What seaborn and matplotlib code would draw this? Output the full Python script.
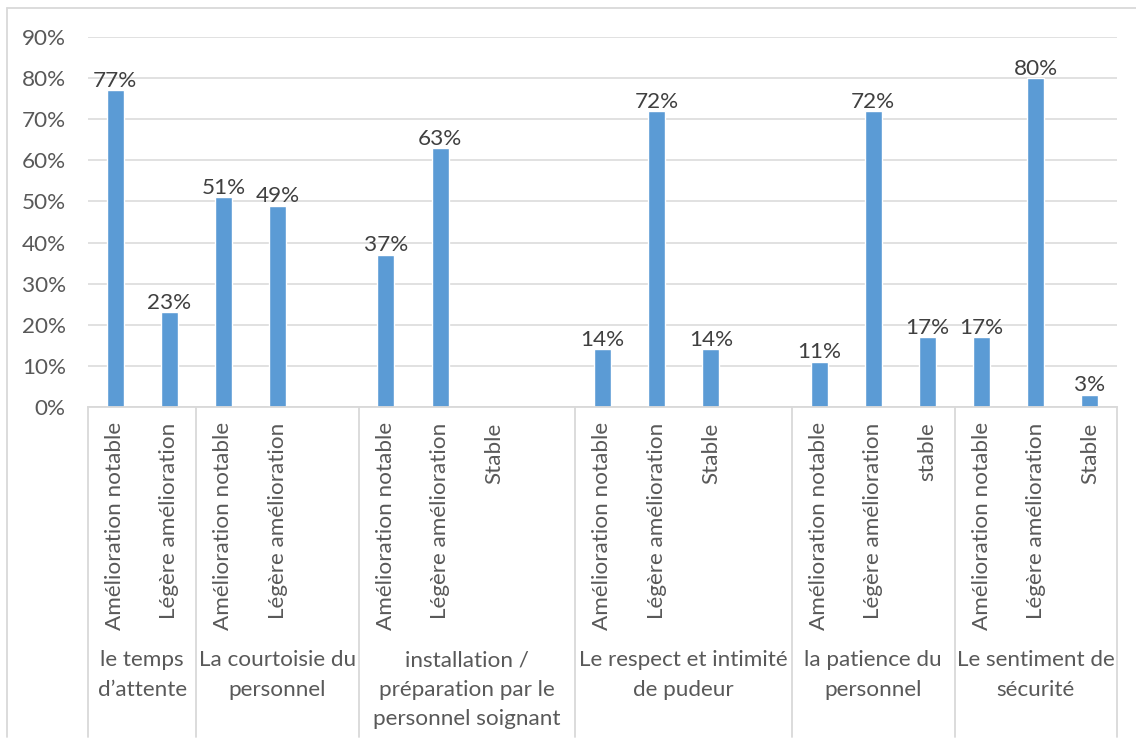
import matplotlib
matplotlib.use("Agg")
import matplotlib.pyplot as plt
import matplotlib.lines as mlines
from matplotlib.transforms import blended_transform_factory
import pandas as pd
import seaborn as sns

# Survey themes (outer axis level), wrapped as printed under the axis
groups = [
    "le temps\nd’attente",
    "La courtoisie du\npersonnel",
    "installation /\npréparation par le\npersonnel soignant",
    "Le respect et intimité\nde pudeur",
    "la patience du\npersonnel",
    "Le sentiment de\nsécurité",
]

# Answer categories per theme (inner axis level); "" keeps an empty slot
cats_attente = ["Amélioration notable", "Légère amélioration"]
cats_courtoisie = ["Amélioration notable", "Légère amélioration", ""]
cats_installation = ["Amélioration notable", "Légère amélioration", "Stable", ""]
cats_respect = ["Amélioration notable", "Légère amélioration", "Stable", ""]
cats_patience = ["Amélioration notable", "Légère amélioration", "stable"]
cats_securite = ["Amélioration notable", "Légère amélioration", "Stable"]

# Percentages of respondents (None = no answer / no bar)
vals_attente = [77, 23]
vals_courtoisie = [51, 49, None]
vals_installation = [37, 63, None, None]
vals_respect = [14, 72, 14, None]
vals_patience = [11, 72, 17]
vals_securite = [17, 80, 3]

y_ticks = [0, 10, 20, 30, 40, 50, 60, 70, 80, 90]

group_categories = [cats_attente, cats_courtoisie, cats_installation,
                    cats_respect, cats_patience, cats_securite]
group_values = [vals_attente, vals_courtoisie, vals_installation,
                vals_respect, vals_patience, vals_securite]

# Flatten into one categorical axis with unique keys per slot
slot_keys, slot_labels, spans, rows = [], [], [], []
for g, (cats, vals) in enumerate(zip(group_categories, group_values)):
    start = len(slot_keys)
    for j, (c, v) in enumerate(zip(cats, vals)):
        key = f"{g}-{j}"
        slot_keys.append(key)
        slot_labels.append(c)
        if v is not None:
            rows.append({"slot": key, "value": v})
    spans.append((start, len(slot_keys)))
df = pd.DataFrame(rows)

sns.set_style("white")
plt.rcParams["font.family"] = ["Lato", "DejaVu Sans"]

TICK_COLOR = "#595959"
LABEL_COLOR = "#404040"
LINE_COLOR = "#D9D9D9"
BAR_COLOR = "#5B9BD5"
FS = 16.2

W, H = 1136, 745
fig = plt.figure(figsize=(W / 100, H / 100), dpi=100)
left, right, top, bottom = 88, 1117, 37, 407
ax = fig.add_axes([left / W, 1 - bottom / H, (right - left) / W, (bottom - top) / H])

sns.barplot(data=df, x="slot", y="value", order=slot_keys, color=BAR_COLOR,
            saturation=1, width=0.314, errorbar=None, ax=ax, zorder=3)

ax.set_xlim(-0.5, len(slot_keys) - 0.5)
ax.set_ylim(0, 90)
ax.set_yticks(y_ticks)
ax.set_yticklabels([f"{t}%" for t in y_ticks], fontsize=FS, color=TICK_COLOR)
ax.set_xticks(range(len(slot_keys)))
ax.set_xticklabels(slot_labels, rotation=90, fontsize=FS, color=TICK_COLOR)
ax.tick_params(axis="x", length=0, pad=11)
ax.tick_params(axis="y", length=0, pad=16)
ax.set_xlabel("")
ax.set_ylabel("")

ax.grid(axis="y", color=LINE_COLOR, linewidth=1.1, zorder=0)
ax.set_axisbelow(True)
for s in ["left", "top", "right"]:
    ax.spines[s].set_visible(False)
ax.spines["bottom"].set_color(LINE_COLOR)
ax.spines["bottom"].set_linewidth(1.3)
ax.spines["bottom"].set_zorder(4)

# Value labels above bars
for key, v in zip(df["slot"], df["value"]):
    x = slot_keys.index(key)
    ax.annotate(f"{v}%", xy=(x, v), xytext=(0, 2.5), textcoords="offset points",
                ha="center", va="baseline", fontsize=FS, color=LABEL_COLOR)

# Outer category level: separators and theme names
trans = blended_transform_factory(ax.transData, ax.transAxes)
sep_bottom = (bottom - 737) / (bottom - top)
edges = sorted({s for s, _ in spans} | {e for _, e in spans})
for e in edges:
    ax.plot([e - 0.5, e - 0.5], [0, sep_bottom], transform=trans,
            color=LINE_COLOR, linewidth=1.3, clip_on=False)
name_top = (bottom - 650) / (bottom - top)
for (s, e), name in zip(spans, groups):
    ax.text((s + e - 1) / 2, name_top, name, transform=trans, ha="center",
            va="top", multialignment="center", fontsize=FS, color=TICK_COLOR,
            linespacing=1.6)

# Chart-area frame
fig.add_artist(mlines.Line2D([7 / W, 1], [1 - 8 / H, 1 - 8 / H],
                             transform=fig.transFigure, color=LINE_COLOR, linewidth=1.3))
fig.add_artist(mlines.Line2D([7 / W, 7 / W], [1 - 8 / H, 1 - 737 / H],
                             transform=fig.transFigure, color=LINE_COLOR, linewidth=1.3))

fig.savefig("out.png", dpi=100, facecolor="white")
